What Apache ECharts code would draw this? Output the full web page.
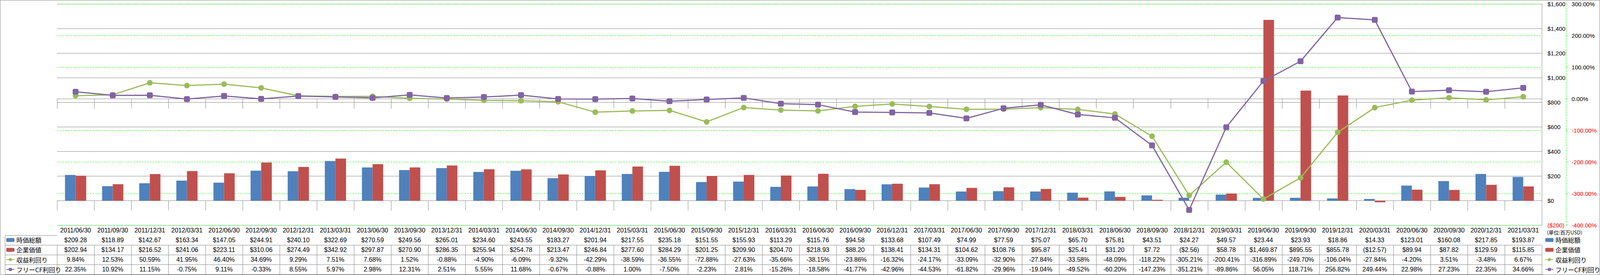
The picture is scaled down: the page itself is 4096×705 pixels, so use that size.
<!DOCTYPE html>
<html>
<head>
<meta charset="utf-8">
<script src="https://cdn.jsdelivr.net/npm/echarts@6/dist/echarts.min.js"></script>
<style>
html,body{margin:0;padding:0;background:#fff;}
#c{width:4096px;height:705px;}
</style>
</head>
<body>
<div id="c"></div>
<script>
// ---- data ----
const dates = ['2011/06/30','2011/09/30','2011/12/31','2012/03/31','2012/06/30','2012/09/30','2012/12/31','2013/03/31','2013/06/30','2013/09/30','2013/12/31','2014/03/31','2014/06/30','2014/09/30','2014/12/31','2015/03/31','2015/06/30','2015/09/30','2015/12/31','2016/03/31','2016/06/30','2016/09/30','2016/12/31','2017/03/31','2017/06/30','2017/09/30','2017/12/31','2018/03/31','2018/06/30','2018/09/30','2018/12/31','2019/03/31','2019/06/30','2019/09/30','2019/12/31','2020/03/31','2020/06/30','2020/09/30','2020/12/31','2021/03/31'];
const marketCap = [209.28,118.89,142.67,163.34,147.05,244.91,240.10,322.69,270.59,249.56,265.01,234.60,243.55,183.27,201.94,217.55,235.18,151.55,155.93,113.29,115.76,94.58,133.68,107.49,74.99,77.59,75.07,65.70,75.81,43.51,24.27,49.57,23.44,23.93,18.86,14.33,123.01,160.08,217.85,193.87];
const enterpriseValue = [202.94,134.17,216.52,241.06,223.11,310.06,274.49,342.92,297.87,270.90,286.35,255.94,254.78,213.47,246.84,277.60,284.29,201.25,209.90,204.70,218.93,88.20,138.41,134.31,104.62,108.76,95.87,25.41,31.20,7.72,-2.56,58.78,1469.87,895.55,855.78,-12.57,89.94,87.82,129.59,115.85];
const earningsYield = [9.84,12.53,50.59,41.95,46.40,34.69,9.29,7.51,7.68,1.52,-0.88,-4.90,-6.09,-9.32,-42.29,-38.59,-36.55,-72.88,-27.63,-35.66,-38.15,-23.86,-16.32,-24.17,-33.09,-32.90,-27.84,-33.58,-48.09,-118.22,-305.21,-200.41,-316.89,-249.70,-106.04,-27.84,-4.20,3.51,-3.48,6.67];
const fcfYield = [22.35,10.92,11.15,-0.75,9.11,-0.33,8.55,5.97,2.98,12.31,2.51,5.55,11.68,-0.67,-0.88,1.00,-7.50,-2.23,2.81,-15.26,-18.58,-41.77,-42.96,-44.53,-61.82,-29.96,-19.04,-49.52,-60.20,-147.23,-351.21,-89.86,56.05,118.71,256.82,249.44,22.98,27.23,22.35,34.66];
const seriesNames = ['時価総額','企業価値','収益利回り','フリーCF利回り'];
const unitLabel = '(単位:百万USD)';
const moneyAxis = {min:-200, max:1600, interval:200};
const pctAxis = {min:-400, max:300, interval:100};

// ---- layout / style ----
const W = 4096, H = 705;
const gridLeft = 146, gridRight = 149, gridTop = 10, gridBottom = 127.3;
const rowH = 25.1;
const plotBottomY = H - gridBottom;
const FONT = '"Liberation Sans", "Noto Sans CJK JP", sans-serif';
const JFONT = '"Noto Sans CJK JP", "Liberation Sans", sans-serif';
const GRAY = '#868686';
const GREEN_GRID = '#00FF00';
const C_BLUE = '#4F81BD', C_RED = '#C0504D', C_GREEN = '#9BBB59', C_PURPLE = '#8064A2';

function grp(i){ return i.replace(/\B(?=(\d{3})+(?!\d))/g, ','); }
function money(v){
  const s = Math.abs(v).toFixed(2).split('.');
  const t = grp(s[0]) + '.' + s[1];
  return v < 0 ? '($' + t + ')' : '$' + t;
}
function pct(v){ return v.toFixed(2) + '%'; }

const tableRows = [
  i => money(marketCap[i]),
  i => money(enterpriseValue[i]),
  i => pct(earningsYield[i]),
  i => pct(fcfYield[i])
];

function tableAxis(k, formatter, showLabel, showTick){
  return {
    type:'category', data:dates, gridIndex:0, position:'bottom', offset:k*rowH,
    boundaryGap:true,
    axisLine:{show:true, lineStyle:{color:GRAY, width:1}},
    axisTick:{show:showTick, interval:0, alignWithLabel:false, length:rowH, lineStyle:{color:GRAY, width:1}},
    axisLabel:{show:showLabel, interval:0, margin:rowH/2, verticalAlign:'middle', color:'#000', fontSize:16, fontFamily:FONT, formatter:formatter},
    splitLine:{show:false}
  };
}

const xAxes = [tableAxis(0, v => v, true, true)];
tableRows.forEach((f, r) => xAxes.push(tableAxis(r+1, (v, i) => f(i), true, true)));
xAxes.push(tableAxis(5, v => '', false, false));

const legendBase = {
  orient:'vertical', padding:0, itemWidth:21, itemHeight:10, itemGap:rowH-17,
  selectedMode:false, data:seriesNames,
  textStyle:{fontSize:16, lineHeight:17, fontFamily:JFONT, color:'#000'}
};
const legendTop = plotBottomY + rowH*1.5 - 8.5;

// left column borders
const leftColX = 13.1;
const graphics = [
  {type:'rect', shape:{x:0.5, y:0.5, width:W-1, height:H-1}, style:{fill:null, stroke:GRAY, lineWidth:1}, silent:true}
];
for (let k = 1; k <= 5; k++) {
  const y = Math.round(plotBottomY + k*rowH) + 0.5;
  graphics.push({type:'line', shape:{x1:leftColX, y1:y, x2:gridLeft, y2:y}, style:{stroke:GRAY, lineWidth:1}, silent:true});
}
graphics.push({type:'line', shape:{x1:leftColX, y1:plotBottomY+rowH, x2:leftColX, y2:plotBottomY+5*rowH}, style:{stroke:GRAY, lineWidth:1}, silent:true});

const option = {
  animation:false,
  backgroundColor:'#fff',
  textStyle:{fontFamily:FONT},
  title:{text:unitLabel, left:3960, top:589, padding:0, textStyle:{fontSize:13, fontWeight:'normal', color:'#000', fontFamily:JFONT}},
  grid:{left:gridLeft, right:gridRight, top:gridTop, bottom:gridBottom, containLabel:false},
  legend:[
    Object.assign({}, legendBase, {left:15, top:legendTop}),
    Object.assign({}, legendBase, {left:3955, top:legendTop})
  ],
  xAxis:xAxes,
  yAxis:[
    {
      type:'value', position:'right', min:moneyAxis.min, max:moneyAxis.max, interval:moneyAxis.interval,
      axisLine:{show:true, lineStyle:{color:GRAY, width:1}},
      axisTick:{show:false},
      axisLabel:{margin:14.5, fontSize:15, fontFamily:FONT, color:'#000',
        formatter:v => v < 0 ? '{n|($' + grp(String(-v)) + ')}' : '$' + grp(String(v)),
        rich:{n:{color:'#FF0000', fontSize:15, fontFamily:FONT}}},
      splitLine:{show:true, lineStyle:{color:GRAY, width:1}}
    },
    {
      type:'value', position:'right', offset:61.8, min:pctAxis.min, max:pctAxis.max, interval:pctAxis.interval,
      axisLine:{show:true, lineStyle:{color:GREEN_GRID, width:1, type:[4,3]}},
      axisTick:{show:true, length:5, lineStyle:{color:GREEN_GRID, width:1}},
      axisLabel:{margin:14.5, fontSize:15, fontFamily:FONT, color:'#000',
        formatter:v => v < 0 ? '{n|' + v.toFixed(2) + '%}' : v.toFixed(2) + '%',
        rich:{n:{color:'#FF0000', fontSize:15, fontFamily:FONT}}},
      splitLine:{show:true, lineStyle:{color:GREEN_GRID, width:1, type:[4,3]}}
    }
  ],
  graphic:graphics,
  series:[
    {name:seriesNames[0], type:'bar', xAxisIndex:0, yAxisIndex:0, data:marketCap, barGap:'0%', barCategoryGap:'42.86%', itemStyle:{color:C_BLUE}},
    {name:seriesNames[1], type:'bar', xAxisIndex:0, yAxisIndex:0, data:enterpriseValue, barGap:'0%', barCategoryGap:'42.86%', itemStyle:{color:C_RED}},
    {name:seriesNames[2], type:'line', xAxisIndex:0, yAxisIndex:1, data:earningsYield, symbol:'circle', symbolSize:14.5,
      lineStyle:{color:C_GREEN, width:3}, itemStyle:{color:C_GREEN}},
    {name:seriesNames[3], type:'line', xAxisIndex:0, yAxisIndex:1, data:fcfYield, symbol:'roundRect', symbolSize:15,
      lineStyle:{color:C_PURPLE, width:3}, itemStyle:{color:C_PURPLE}}
  ]
};

const chart = echarts.init(document.getElementById('c'), null, {renderer:'svg', width:W, height:H});
chart.setOption(option);
</script>
</body>
</html>
